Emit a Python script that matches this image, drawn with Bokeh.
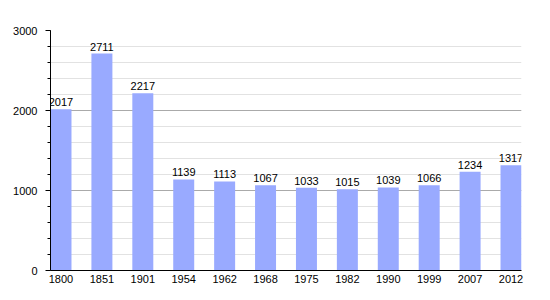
from bokeh.plotting import figure
from bokeh.models import ColumnDataSource, FixedTicker, Range1d, LabelSet
from bokeh.core.properties import value
from bokeh.embed import file_html
from bokeh.resources import INLINE

years = ["1800", "1851", "1901", "1954", "1962", "1968", "1975", "1982", "1990", "1999", "2007", "2012"]
population = [2017, 2711, 2217, 1139, 1113, 1067, 1033, 1015, 1039, 1066, 1234, 1317]
y_ticks = [0, 1000, 2000, 3000]

xs = list(range(len(years)))
src = ColumnDataSource(dict(x=xs, top=population, lab=[str(v) for v in population]))

bw = 0.513
p = figure(width=550, height=300, output_backend="svg", toolbar_location=None,
           x_range=Range1d(-bw / 2, len(years) - 1 + bw / 2), y_range=Range1d(0, 3000),
           min_border_left=50, min_border_right=29, min_border_top=30, min_border_bottom=30)
p.outline_line_color = None
p.background_fill_color = "white"
p.border_fill_color = "white"

p.vbar(x="x", top="top", width=bw, source=src, fill_color="#99aaff", line_color=None)

font = "Liberation Sans"
labels = LabelSet(x="x", y="top", text="lab", source=src, text_align="center",
                  text_baseline="bottom", y_offset=3, text_font=value(font),
                  text_font_size=value("11px"), text_color="black")
p.add_layout(labels)

p.xaxis.ticker = FixedTicker(ticks=xs)
p.xaxis.major_label_overrides = {i: y for i, y in enumerate(years)}
p.xaxis.major_tick_out = 0
p.xaxis.major_tick_in = 0
p.xaxis.minor_tick_out = 0
p.xaxis.minor_tick_in = 0
p.xaxis.axis_line_color = "black"
p.xaxis.major_label_standoff = 4
p.xaxis.major_label_text_font = font
p.xaxis.major_label_text_font_size = "11px"
p.xaxis.major_label_text_color = "black"

p.yaxis.ticker = FixedTicker(ticks=y_ticks, minor_ticks=list(range(0, 3001, 200)))
p.yaxis.major_tick_out = 5
p.yaxis.major_tick_in = 0
p.yaxis.minor_tick_out = 3
p.yaxis.minor_tick_in = 0
p.yaxis.axis_line_color = "black"
p.yaxis.major_tick_line_color = "black"
p.yaxis.minor_tick_line_color = "black"
p.yaxis.major_label_standoff = 8
p.yaxis.major_label_text_font = font
p.yaxis.major_label_text_font_size = "11px"
p.yaxis.major_label_text_color = "black"

p.xgrid.grid_line_color = None
p.ygrid.grid_line_color = "#aaaaaa"
p.ygrid.minor_grid_line_color = "#e2e2e2"

open("out.html", "w").write(file_html(p, INLINE))
